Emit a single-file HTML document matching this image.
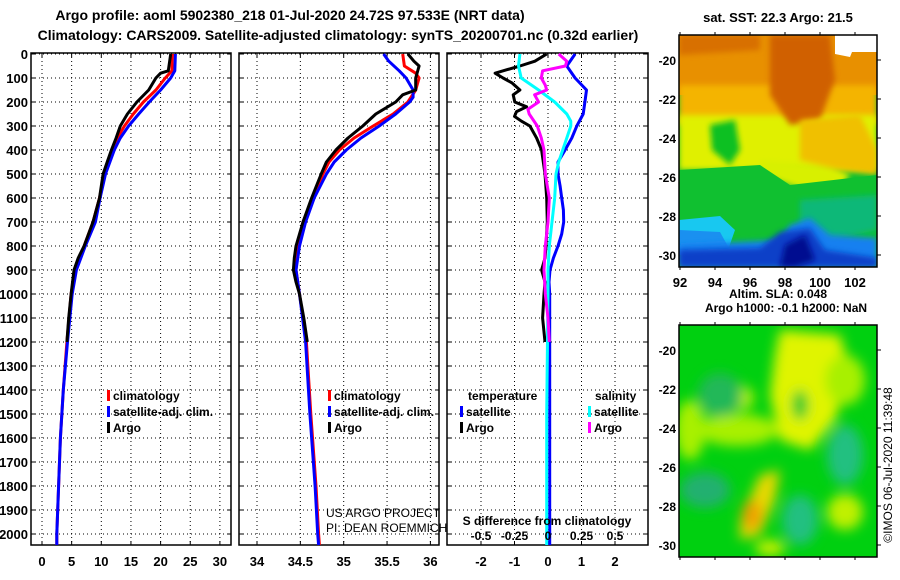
<!DOCTYPE html>
<html><head><meta charset="utf-8">
<style>
html,body{margin:0;padding:0;background:#fff;}
#wrap{position:relative;width:900px;height:580px;overflow:hidden;font-family:"Liberation Sans",Arial,sans-serif;}
svg text{font-family:"Liberation Sans",Arial,sans-serif;}
</style></head>
<body>
<div id="wrap">
<svg id="fig" width="900" height="580" viewBox="0 0 900 580" xmlns="http://www.w3.org/2000/svg">
<defs>
<filter id="blur6" x="-30%" y="-30%" width="160%" height="160%"><feGaussianBlur stdDeviation="6"/></filter>
<filter id="blur3" x="-30%" y="-30%" width="160%" height="160%"><feGaussianBlur stdDeviation="3"/></filter>
<clipPath id="clipTop"><rect x="679" y="35" width="198" height="232"/></clipPath>
<clipPath id="clipBot"><rect x="679" y="325" width="198" height="232"/></clipPath>
</defs>
<text x="290" y="20" font-size="14" font-weight="bold" text-anchor="middle">Argo profile: aoml 5902380_218 01-Jul-2020 24.72S 97.533E (NRT data)</text>
<text x="338" y="40" font-size="14" font-weight="bold" text-anchor="middle">Climatology: CARS2009. Satellite-adjusted climatology: synTS_20200701.nc (0.32d earlier)</text>

<!-- SST map -->
<g clip-path="url(#clipTop)">
<rect x="679" y="35" width="198" height="232" fill="#10c030"/>
<rect x="679" y="35" width="198" height="60" fill="#e89000"/>
<rect x="679" y="85" width="198" height="40" fill="#f4b400" filter="url(#blur3)"/>
<rect x="679" y="115" width="198" height="55" fill="#e0f000" filter="url(#blur3)"/>
<path d="M760,160 L830,165 L850,175 L830,200 L790,185 L760,175 Z" fill="#d8f000" filter="url(#blur3)"/>
<path d="M770,35 L830,35 L835,80 L820,120 L790,125 L770,95 Z" fill="#d06000" filter="url(#blur3)"/>
<path d="M679,35 L760,35 L760,50 L679,55 Z" fill="#d87000" filter="url(#blur3)"/>
<path d="M800,120 L860,115 L877,150 L877,175 L840,170 L800,160 Z" fill="#f0c000" filter="url(#blur3)"/>
<path d="M710,125 L735,120 L740,150 L730,165 L712,150 Z" fill="#10c020" filter="url(#blur3)"/>
<path d="M679,170 L760,165 L790,185 L877,175 L877,267 L679,267 Z" fill="#10c030"/>
<path d="M800,200 L877,195 L877,230 L830,240 L800,225 Z" fill="#10b878" filter="url(#blur3)"/>
<path d="M679,220 L720,216 L735,230 L728,250 L679,250 Z" fill="#18c8f0"/>
<path d="M679,230 L720,232 L730,250 L679,255 Z" fill="#1a90f0"/>
<path d="M679,245 L780,240 L790,225 L810,218 L830,235 L877,238 L877,267 L679,267 Z" fill="#1880f0" filter="url(#blur3)"/>
<path d="M679,250 L760,248 L780,232 L810,228 L825,250 L877,258 L877,267 L679,267 Z" fill="#1040c8" filter="url(#blur3)"/>
<path d="M785,245 L805,235 L815,260 L795,267 L780,267 Z" fill="#000890" filter="url(#blur3)"/>
<path d="M835,35 L877,35 L877,52 L852,52 L850,57 L835,54 Z" fill="#ffffff"/>
</g>
<rect x="679" y="35" width="198" height="232" fill="none" stroke="#000" stroke-width="1.5"/>
<text x="778" y="22" font-size="13" font-weight="bold" text-anchor="middle">sat. SST: 22.3 Argo: 21.5</text>

<!-- SLA map -->
<g clip-path="url(#clipBot)">
<rect x="679" y="325" width="198" height="232" fill="#00d010"/>
<g filter="url(#blur6)">
<path d="M780,330 L840,335 L850,370 L835,420 L810,450 L780,440 L770,395 L775,355 Z" fill="#e0f400"/>
<ellipse cx="845" cy="380" rx="20" ry="25" fill="#a8f000"/>
<ellipse cx="738" cy="430" rx="40" ry="16" fill="#a8f000"/>
<ellipse cx="690" cy="430" rx="15" ry="30" fill="#a8f000"/>
<ellipse cx="742" cy="398" rx="12" ry="12" fill="#b0f000"/>
<ellipse cx="720" cy="395" rx="22" ry="22" fill="#20b858"/>
<ellipse cx="800" cy="405" rx="8" ry="15" fill="#00c830"/>
<ellipse cx="845" cy="455" rx="18" ry="30" fill="#20c080"/>
<ellipse cx="705" cy="490" rx="25" ry="18" fill="#20b070"/>
<ellipse cx="800" cy="520" rx="18" ry="25" fill="#20c080"/>
<ellipse cx="845" cy="512" rx="18" ry="18" fill="#c0f000"/>
<path d="M740,520 L760,475 L780,470 L775,500 L760,535 L740,540 Z" fill="#e8d800"/>
<ellipse cx="752" cy="515" rx="10" ry="15" fill="#f0a000"/>
<ellipse cx="770" cy="548" rx="15" ry="8" fill="#c8f000"/>
</g>
</g>
<rect x="679" y="325" width="198" height="232" fill="none" stroke="#000" stroke-width="1.5"/>
<text x="778" y="298" font-size="12" font-weight="bold" text-anchor="middle">Altim. SLA: 0.048</text>
<text x="786" y="312" font-size="12" font-weight="bold" text-anchor="middle">Argo h1000: -0.1 h2000: NaN</text>
<text transform="translate(892,465) rotate(-90)" font-size="12" text-anchor="middle">©IMOS 06-Jul-2020 11:39:48</text>

<g id="plots"></g>
</svg>
</div>
<script>
// ---------- data ----------
const depthLabels = [0,100,200,300,400,500,600,700,800,900,1000,1100,1200,1300,1400,1500,1600,1700,1800,1900,2000];
const tempTicks = [0,5,10,15,20,25,30];
const salTicks = [34,34.5,35,35.5,36];
const dtTicks = [-2,-1,0,1,2];
const dsTicks = [-0.5,-0.25,0,0.25,0.5];
const dsTickLabels = ["-0.5","-0.25","0","0.25","0.5"];
const salTickLabels = ["34","34.5","35","35.5","36"];

const tClimDepth = [0,70,100,150,200,250,300,350,400,500,600,700,800,900,1000,1200,1400,1600,1800,2000,2046];
const tClim = [22.0,21.9,20.8,19.2,17.1,15.4,13.9,12.7,11.9,10.5,9.7,8.6,7.1,5.6,4.9,4.2,3.6,3.1,2.8,2.5,2.5];
const tSat = [22.5,22.4,21.7,20.0,18.1,16.3,14.6,13.2,12.2,10.7,9.8,9.0,7.3,5.8,5.1,4.3,3.6,3.1,2.8,2.5,2.5];
const tArgoDepth = [0,70,80,100,150,200,250,300,350,400,450,500,600,700,800,850,900,1000,1100,1200];
const tArgo = [21.7,21.3,20.0,19.2,18.0,16.0,14.4,13.2,12.5,11.7,11.0,10.3,9.7,8.6,7.1,6.1,5.4,4.9,4.5,4.2];

const sClimDepth = [0,50,80,100,150,200,250,300,350,400,450,500,600,700,800,900,1000,1200,1500,1800,2000,2046];
const sClim = [35.68,35.70,35.83,35.87,35.83,35.74,35.57,35.34,35.12,34.95,34.83,34.76,34.65,34.53,34.47,34.45,34.49,34.57,34.62,34.68,34.71,34.72];
const sSatDepth = [0,30,70,100,150,180,200,250,300,350,400,450,500,600,700,800,900,1000,1200,1500,1800,2000,2046];
const sSat = [35.46,35.52,35.64,35.72,35.80,35.80,35.76,35.60,35.41,35.20,35.03,34.89,34.80,34.66,34.56,34.49,34.45,34.49,34.56,34.61,34.67,34.70,34.71];
const sArgoDepth = [0,30,50,100,150,170,200,250,300,350,400,450,500,600,700,800,850,900,950,1000,1100,1200];
const sArgo = [35.74,35.81,35.87,35.83,35.83,35.68,35.60,35.37,35.22,35.05,34.91,34.80,34.74,34.63,34.53,34.45,34.43,34.42,34.45,34.49,34.54,34.58];

const dtSatDepth = [0,50,100,150,200,250,300,350,400,450,500,550,600,650,700,750,800,850,900,950,1000,1500,2046];
const dtSat = [0.81,0.56,0.81,1.15,1.10,1.05,0.86,0.71,0.51,0.30,0.30,0.36,0.41,0.46,0.47,0.41,0.30,0.16,0.06,0.03,0.05,0.05,0.05];
const dtArgoDepth = [0,30,50,70,80,100,120,150,170,200,220,240,260,280,300,350,400,500,600,700,800,850,900,950,1000,1100,1200];
const dtArgo = [-0.04,-0.39,-0.84,-1.34,-1.58,-1.34,-1.08,-0.84,-1.04,-0.99,-0.64,-0.94,-1.0,-0.79,-0.54,-0.34,-0.19,-0.09,-0.04,-0.02,-0.06,-0.09,-0.19,-0.09,-0.12,-0.16,-0.09];
const dsSatDepth = [0,50,100,150,200,250,280,300,350,400,450,500,600,700,800,900,1000,1500,2046];
const dsSat = [-0.21,-0.22,-0.20,-0.07,0.05,0.14,0.17,0.17,0.14,0.11,0.08,0.06,0.05,0.03,0.01,0.0,0.0,-0.01,-0.01];
const dsArgoDepth = [0,30,50,70,100,130,150,170,200,230,250,300,350,400,500,600,700,800,900,1000,1100,1200];
const dsArgo = [0.08,0.14,0.13,-0.04,-0.05,-0.02,-0.01,-0.10,-0.07,-0.15,-0.14,-0.08,-0.05,-0.03,-0.02,0.01,0.0,-0.02,-0.03,-0.02,0.0,0.01];

// ---------- scales ----------
const yD = d => 54 + 0.24*d;
const xT = t => 42 + 5.93*t;
const xS = s => 257 + 86.7*(s-34);
const xDT = v => 548 + 33.5*v;
const xDS = v => 548 + 134*v;
const TOP = 53, BOT = 545;

const NS = "http://www.w3.org/2000/svg";
const root = document.getElementById('plots');
function mk(tag, attrs, parent){
  const e = document.createElementNS(NS, tag);
  for (const k in attrs) e.setAttribute(k, attrs[k]);
  (parent||root).appendChild(e);
  return e;
}
function txt(x,y,s,size,weight,anchor,parent){
  const t = mk('text',{x:x,y:y,'font-size':size,'font-weight':weight,'text-anchor':anchor},parent);
  t.textContent = s;
  return t;
}

function panel(name, x0, x1, gridXs){
  const g = mk('g',{});
  
  
  depthLabels.forEach(d=>{
    const l = mk('line',{x1:x0,x2:x1,y1:yD(d),y2:yD(d),stroke:'#000','stroke-width':1,'stroke-dasharray':'1,3'},g);
    
    
    mk('line',{x1:x0,x2:x0+4,y1:yD(d),y2:yD(d),stroke:'#000','stroke-width':1},g);
    mk('line',{x1:x1-4,x2:x1,y1:yD(d),y2:yD(d),stroke:'#000','stroke-width':1},g);
  });
  gridXs.forEach(x=>{
    const l = mk('line',{x1:x,x2:x,y1:TOP,y2:BOT,stroke:'#000','stroke-width':1,'stroke-dasharray':'1,3'},g);
    
    
    mk('line',{x1:x,x2:x,y1:TOP,y2:TOP+4,stroke:'#000','stroke-width':1},g);
    mk('line',{x1:x,x2:x,y1:BOT-4,y2:BOT,stroke:'#000','stroke-width':1},g);
  });
  const fr = mk('rect',{x:x0,y:TOP,width:x1-x0,height:BOT-TOP,fill:'none',stroke:'#000','stroke-width':1.5},g);
  
  
  return g;
}
function line(g, name, depths, vals, sx, color){
  const pts = depths.map((d,i)=> sx(vals[i]).toFixed(1)+','+yD(d).toFixed(1)).join(' ');
  const p = mk('polyline',{points:pts,fill:'none',stroke:color,'stroke-width':3,'stroke-linejoin':'round'},g);
  
  
}
function legendEntry(g, x, y, color, label, name){
  const lg = mk('g',{},g);
  
  
  mk('rect',{x:x,y:y-10,width:3,height:11,fill:color},lg);
  txt(x+6,y,label,12,'bold','start',lg);
}

// depth axis labels
const ya = mk('g',{});


depthLabels.forEach(d=> txt(28, yD(d)+5, String(d), 13, 'bold', 'end', ya));

// panel 1: temperature
const p1 = panel('temperature-panel', 31, 231, tempTicks.map(xT));
line(p1,'temp-climatology-line',tClimDepth,tClim,xT,'#ff0000');
line(p1,'temp-satellite-line',tClimDepth,tSat,xT,'#0000ff');
line(p1,'temp-argo-line',tArgoDepth,tArgo,xT,'#000000');
tempTicks.forEach(t=> txt(xT(t), 566, String(t), 13, 'bold', 'middle', p1));
legendEntry(p1,107,400,'#ff0000','climatology','legend-climatology-temp');
legendEntry(p1,107,416,'#0000ff','satellite-adj. clim.','legend-satellite-temp');
legendEntry(p1,107,432,'#000000','Argo','legend-argo-temp');

// panel 2: salinity
const p2 = panel('salinity-panel', 239, 439, salTicks.map(xS));
line(p2,'sal-climatology-line',sClimDepth,sClim,xS,'#ff0000');
line(p2,'sal-satellite-line',sSatDepth,sSat,xS,'#0000ff');
line(p2,'sal-argo-line',sArgoDepth,sArgo,xS,'#000000');
salTicks.forEach((s,i)=> txt(xS(s), 566, salTickLabels[i], 13, 'bold', 'middle', p2));
legendEntry(p2,328,400,'#ff0000','climatology','legend-climatology-sal');
legendEntry(p2,328,416,'#0000ff','satellite-adj. clim.','legend-satellite-sal');
legendEntry(p2,328,432,'#000000','Argo','legend-argo-sal');
const cr = mk('g',{},p2);


txt(326,517,'US ARGO PROJECT',12,'normal','start',cr);
txt(326,532,'PI: DEAN ROEMMICH',12,'normal','start',cr);

// panel 3: differences
const p3 = panel('difference-panel', 447, 648, dtTicks.map(xDT));
line(p3,'dt-satellite-line',dtSatDepth,dtSat,xDT,'#0000ff');
line(p3,'dt-argo-line',dtArgoDepth,dtArgo,xDT,'#000000');
line(p3,'ds-satellite-line',dsSatDepth,dsSat,xDS,'#00ffff');
line(p3,'ds-argo-line',dsArgoDepth,dsArgo,xDS,'#ff00ff');
dtTicks.forEach(t=> txt(xDT(t), 566, String(t), 13, 'bold', 'middle', p3));
txt(547,525,'S difference from climatology',12,'bold','middle',p3);
dsTicks.forEach((s,i)=> txt(xDS(s), 540, dsTickLabels[i], 12, 'bold', 'middle', p3));
txt(468,400,'temperature',12,'bold','start',p3);
txt(595,400,'salinity',12,'bold','start',p3);
legendEntry(p3,460,416,'#0000ff','satellite','legend-satellite-dt');
legendEntry(p3,460,432,'#000000','Argo','legend-argo-dt');
legendEntry(p3,588,416,'#00ffff','satellite','legend-satellite-ds');
legendEntry(p3,588,432,'#ff00ff','Argo','legend-argo-ds');

// map axes
function mapAxes(name, y0, y1, showLon){
  const g = mk('g',{});
  
  
  const lons=[92,94,96,98,100,102], lats=[-20,-22,-24,-26,-28,-30];
  lons.forEach(l=>{
    const x = 680 + (l-92)*17.5;
    mk('line',{x1:x,x2:x,y1:y0,y2:y0-3,stroke:'#000'},g);
    mk('line',{x1:x,x2:x,y1:y1,y2:y1+3,stroke:'#000'},g);
    if(showLon) txt(x, y1+20, String(l), 13, 'bold', 'middle', g);
  });
  lats.forEach(l=>{
    const y = y0+25 + (-20-l)*19.5;
    mk('line',{x1:877,x2:881,y1:y,y2:y,stroke:'#000'},g);
    txt(676, y+5, String(l), 12, 'bold', 'end', g);
  });
}
mapAxes('sst-map-axes', 35, 267, true);
mapAxes('sla-map-axes', 325, 557, false);
</script>
</body></html>
